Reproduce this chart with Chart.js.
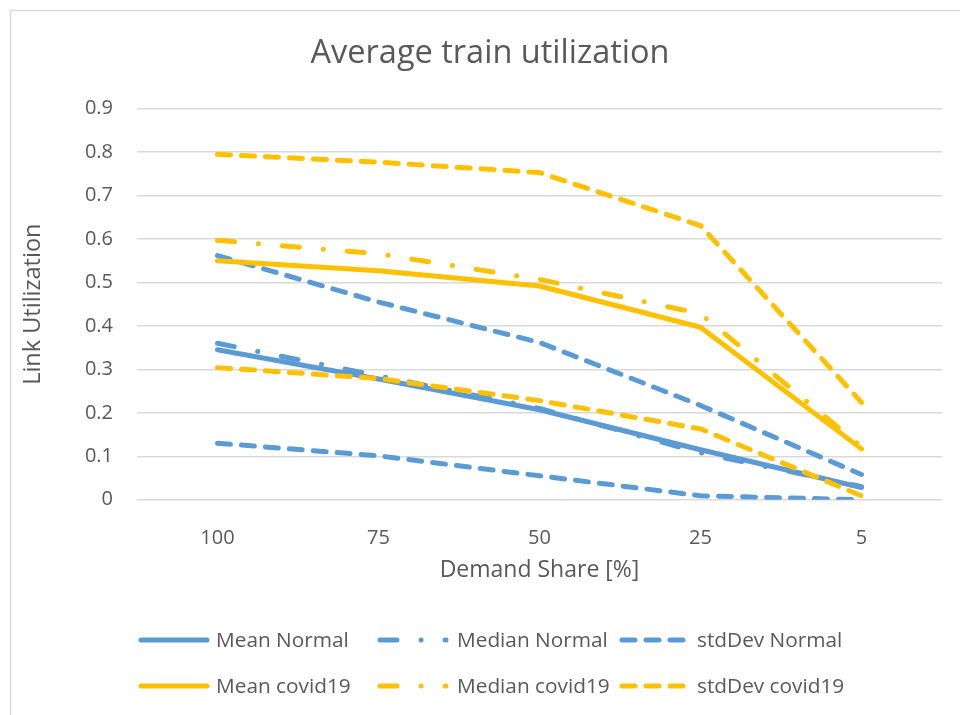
<!DOCTYPE html>
<html>
<head>
<meta charset="utf-8">
<title>Average train utilization</title>
<script src="https://cdn.jsdelivr.net/npm/chart.js@4.4.1/dist/chart.umd.min.js"></script>
<style>
  html, body { margin: 0; padding: 0; background: #fff; }
  #wrap { width: 960px; height: 715px; }
</style>
</head>
<body>
<div id="wrap"><canvas id="chart" width="960" height="715"></canvas></div>
<script>
// data
const categories = ['100', '75', '50', '25', '5'];
const yTickValues = [0, 0.1, 0.2, 0.3, 0.4, 0.5, 0.6, 0.7, 0.8, 0.9];

const meanNormal = [0.345, 0.278, 0.207, 0.115, 0.028];
const medianNormal = [0.36, 0.285, 0.21, 0.108, 0.03];
const stdDevNormalUpper = [0.562, 0.455, 0.362, 0.217, 0.058];
const stdDevNormalLower = [0.13, 0.101, 0.055, 0.009, 0.0];

const meanCovid = [0.55, 0.527, 0.492, 0.397, 0.117];
const medianCovid = [0.597, 0.566, 0.507, 0.428, 0.122];
const stdDevCovidUpper = [0.795, 0.777, 0.753, 0.631, 0.224];
const stdDevCovidLower = [0.304, 0.279, 0.228, 0.163, 0.009];

const BLUE = '#5B9BD5';
const GOLD = '#FFC000';
const TEXT = '#595959';
const GRID = '#D9D9D9';
const FONT = "'Open Sans', sans-serif";

const DASH = [13, 11];
const DASH_DOT = [17, 24, 0.1, 24];

function series(label, data, color, dash, order, inLegend) {
    return {
        label,
        data,
        borderColor: color,
        backgroundColor: color,
        borderWidth: 5,
        borderDash: dash,
        borderCapStyle: 'round',
        borderJoinStyle: 'round',
        pointRadius: 0,
        pointHoverRadius: 0,
        tension: 0,
        fill: false,
        order,
        inLegend
    };
}

const datasets = [
    series('Mean Normal', meanNormal, BLUE, [], 8, true),
    series('Median Normal', medianNormal, BLUE, DASH_DOT, 7, true),
    series('stdDev Normal', stdDevNormalUpper, BLUE, DASH, 6, true),
    series('stdDev Normal', stdDevNormalLower, BLUE, DASH, 5, false),
    series('Mean covid19', meanCovid, GOLD, [], 4, true),
    series('Median covid19', medianCovid, GOLD, DASH_DOT, 3, true),
    series('stdDev covid19', stdDevCovidUpper, GOLD, DASH, 2, true),
    series('stdDev covid19', stdDevCovidLower, GOLD, DASH, 1, false)
];

// frame, title and the 3x2 legend, drawn the way the spreadsheet had them
const decorations = {
    id: 'decorations',
    beforeDraw(chart) {
        const ctx = chart.ctx;
        ctx.save();
        ctx.fillStyle = '#fff';
        ctx.fillRect(0, 0, chart.width, chart.height);
        ctx.strokeStyle = GRID;
        ctx.lineWidth = 1.5;
        ctx.strokeRect(10.5, 10.5, 980, 730);
        ctx.restore();
    },
    afterDraw(chart) {
        const ctx = chart.ctx;
        ctx.save();
        ctx.fillStyle = TEXT;
        ctx.textAlign = 'center';
        ctx.textBaseline = 'middle';
        ctx.font = '32.5px ' + FONT;
        ctx.fillText('Average train utilization', 490, 54);

        const colX = [141, 380, 622];
        const textX = [216, 457, 697];
        const rowY = [640, 686];
        const items = chart.data.datasets.filter(d => d.inLegend);
        ctx.font = '20.8px ' + FONT;
        ctx.textAlign = 'left';
        items.forEach((d, i) => {
            const col = i % 3;
            const row = Math.floor(i / 3);
            const y = rowY[row];
            ctx.beginPath();
            ctx.strokeStyle = d.borderColor;
            ctx.lineWidth = d.borderWidth;
            ctx.lineCap = 'round';
            ctx.setLineDash(d.borderDash);
            ctx.moveTo(colX[col], y);
            ctx.lineTo(colX[col] + 66, y);
            ctx.stroke();
            ctx.setLineDash([]);
            ctx.fillStyle = TEXT;
            ctx.fillText(d.label, textX[col], y + 1);
        });
        ctx.restore();
    }
};

new Chart(document.getElementById('chart'), {
    type: 'line',
    data: { labels: categories, datasets },
    plugins: [decorations],
    options: {
        responsive: false,
        animation: false,
        events: [],
        layout: { padding: { top: 108.7, left: 0, right: 18, bottom: 115.3 } },
        plugins: {
            legend: { display: false },
            title: { display: false },
            tooltip: { enabled: false }
        },
        scales: {
            x: {
                offset: true,
                grid: { display: false },
                border: { display: false },
                ticks: {
                    color: TEXT,
                    padding: 19,
                    font: { family: FONT, size: 20 }
                },
                title: {
                    display: true,
                    text: 'Demand Share [%]',
                    color: TEXT,
                    font: { family: FONT, size: 23 },
                    padding: { top: 0, bottom: 15 }
                },
                afterFit(scale) { scale.height = 100; }
            },
            y: {
                min: 0,
                max: 0.9,
                grid: { color: GRID, lineWidth: 1.5, drawTicks: false },
                border: { display: false },
                ticks: {
                    color: TEXT,
                    padding: 24,
                    font: { family: FONT, size: 20 },
                    callback: v => String(+v.toFixed(1))
                },
                title: {
                    display: true,
                    text: 'Link Utilization',
                    color: TEXT,
                    font: { family: FONT, size: 23.5 },
                    padding: { top: 19, bottom: 0 }
                },
                afterBuildTicks(axis) {
                    axis.ticks = yTickValues.map(v => ({ value: v }));
                },
                afterFit(scale) { scale.width = 137; }
            }
        }
    }
});
</script>
</body>
</html>
